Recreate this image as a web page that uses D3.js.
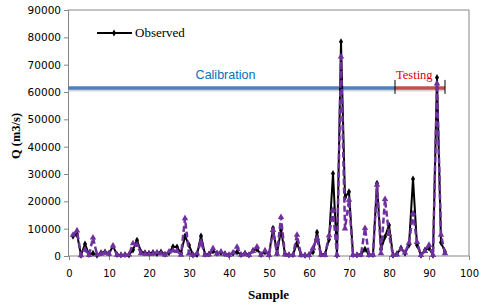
<!DOCTYPE html>
<html>
<head>
<meta charset="utf-8">
<script src="https://cdn.jsdelivr.net/npm/d3@7"></script>
<style>
  body { margin: 0; background: #fff; }
  svg { display: block; }
</style>
</head>
<body>
<svg id="chart" width="500" height="306"></svg>
<script>
// observed / predicted discharge per sample (m3/s)
const observed = [7200, 8000, 300, 4400, 500, 1000, 300, 1200, 1500, 1000,
  3600, 500, 400, 500, 400, 2200, 5800, 1500, 1200, 1000,
  1300, 900, 1500, 600, 1200, 3400, 3300, 1000, 7300, 4000,
  400, 500, 7300, 600, 700, 1800, 1000, 1200, 800, 400,
  1000, 1500, 500, 1000, 400, 2000, 2500, 500, 1500, 500,
  10200, 1000, 9500, 800, 400, 500, 4700, 500, 300, 500,
  1500, 8700, 600, 600, 6000, 30200, 300, 78400, 21400, 23500,
  500, 400, 600, 2500, 500, 500, 26600, 2500, 7000, 11300,
  300, 800, 2900, 1000, 4000, 28200, 4000, 300, 2200, 2900,
  300, 65300, 4900, 1500];
const predicted = [7700, 9300, 200, 2300, 300, 6700, 500, 800, 1200, 800,
  3800, 400, 300, 300, 500, 4600, 4000, 1000, 800, 700,
  800, 1300, 900, 400, 1600, 2000, 1800, 400, 13800, 900,
  300, 1000, 5200, 400, 500, 2800, 800, 1600, 600, 300,
  1200, 3300, 400, 800, 300, 1800, 3400, 400, 2000, 300,
  9500, 800, 14200, 500, 300, 400, 7700, 300, 200, 300,
  2900, 6500, 400, 300, 7500, 16800, 300, 72900, 10000, 20500,
  300, 300, 400, 10200, 300, 400, 26000, 1000, 20800, 8000,
  300, 500, 2500, 1200, 4800, 15600, 5100, 300, 1800, 4000,
  300, 63100, 7700, 1000];
const samples = observed.map((d, i) => i + 1);

const xTicks = [0, 10, 20, 30, 40, 50, 60, 70, 80, 90, 100];
const yTicks = [0, 10000, 20000, 30000, 40000, 50000, 60000, 70000, 80000, 90000];

// calibration / testing periods (sample ranges) and the level they are drawn at
const periods = [
  {name: "Calibration", from: 0, to: 81.5, color: "#4f81bd", text: "#0070c0"},
  {name: "Testing", from: 81.5, to: 94, color: "#c0504d", text: "#e00000"}
];
const periodLevel = 61500;

const svg = d3.select("#chart");
const m = {left: 68, top: 10, right: 469, bottom: 256};

const x = d3.scaleLinear().domain([0, 100]).range([m.left + 1, m.right]);
const y = d3.scaleLinear().domain([0, 90000]).range([m.bottom, m.top]);

const axisCol = "#868686";

// plot frame (top + right)
svg.append("path")
  .attr("d", `M${m.left},${m.top}H${m.right}V${m.bottom}`)
  .attr("fill", "none")
  .attr("stroke", axisCol)
  .attr("stroke-width", 1);

// y axis
const gy = svg.append("g")
  .attr("transform", `translate(${m.left},0)`)
  .call(d3.axisLeft(y).tickValues(yTicks).tickSize(4).tickPadding(3).tickFormat(d3.format("d")));
gy.select(".domain").attr("stroke", axisCol);
gy.selectAll(".tick line").attr("stroke", axisCol);
gy.selectAll(".tick text")
  .attr("fill", "#000")
  .style("font-family", "DejaVu Sans, Verdana, sans-serif")
  .style("font-size", "10.5px");

// x axis
const gx = svg.append("g")
  .attr("transform", `translate(0,${m.bottom})`)
  .call(d3.axisBottom(x).tickValues(xTicks).tickSize(4).tickPadding(10));
gx.select(".domain").attr("stroke", axisCol).attr("d", `M${m.left},0H${m.right}`);
gx.selectAll(".tick line").attr("stroke", axisCol);
gx.selectAll(".tick text")
  .attr("fill", "#000")
  .style("font-family", "DejaVu Sans, Verdana, sans-serif")
  .style("font-size", "10px");

// axis titles
svg.append("text")
  .attr("x", (m.left + m.right) / 2)
  .attr("y", 299)
  .attr("text-anchor", "middle")
  .style("font-family", "Liberation Serif, serif")
  .style("font-weight", "bold")
  .style("font-size", "13px")
  .text("Sample");

svg.append("text")
  .attr("transform", "translate(20,136) rotate(-90)")
  .attr("text-anchor", "middle")
  .style("font-family", "Liberation Serif, serif")
  .style("font-weight", "bold")
  .style("font-size", "12.5px")
  .text("Q (m3/s)");

// period bars
const pg = svg.append("g");
periods.forEach((p, i) => {
  pg.append("line")
    .attr("x1", i == 0 ? m.left : x(p.from)).attr("x2", x(p.to))
    .attr("y1", y(periodLevel) + 2).attr("y2", y(periodLevel) + 2)
    .attr("stroke", "#bbb").attr("stroke-width", 3).attr("opacity", 0.6);
  pg.append("line")
    .attr("x1", i == 0 ? m.left : x(p.from)).attr("x2", x(p.to))
    .attr("y1", y(periodLevel)).attr("y2", y(periodLevel))
    .attr("stroke", p.color).attr("stroke-width", 3.5);
  pg.append("text")
    .attr("x", i == 0 ? (m.left + x(p.to)) / 2 - 6 : x(p.from) + 1)
    .attr("y", y(periodLevel) - 9)
    .attr("text-anchor", i == 0 ? "middle" : "start")
    .attr("fill", p.text)
    .style("font-family", i == 0 ? "Liberation Sans Narrow, Liberation Sans, sans-serif" : "Liberation Serif, serif")
    .style("font-size", "12.5px")
    .text(p.name);
});
[periods[1].from, periods[1].to].forEach(v => {
  pg.append("line")
    .attr("x1", x(v)).attr("x2", x(v))
    .attr("y1", y(periodLevel) - 8).attr("y2", y(periodLevel) + 6)
    .attr("stroke", "#000").attr("stroke-width", 1);
});

// series
const line = (vals) => d3.line()
  .x((d, i) => x(samples[i]))
  .y(d => y(d))(vals);

svg.append("path")
  .attr("d", line(observed))
  .attr("fill", "none")
  .attr("stroke", "#000")
  .attr("stroke-width", 2)
  .attr("stroke-linejoin", "round");

svg.append("g").selectAll("path")
  .data(observed)
  .join("path")
  .attr("transform", (d, i) => `translate(${x(samples[i])},${y(d)})`)
  .attr("d", d3.symbol(d3.symbolDiamond, 14))
  .attr("fill", "#000");

svg.append("path")
  .attr("d", line(predicted))
  .attr("fill", "none")
  .attr("stroke", "#7030a0")
  .attr("stroke-width", 2.5)
  .attr("stroke-dasharray", "6,3")
  .attr("stroke-linejoin", "round");

svg.append("g").selectAll("path")
  .data(predicted)
  .join("path")
  .attr("transform", (d, i) => `translate(${x(samples[i])},${y(d)})`)
  .attr("d", d3.symbol(d3.symbolTriangle, 18))
  .attr("fill", "#7030a0");

// legend
const lg = svg.append("g").attr("transform", "translate(97,33)");
lg.append("line").attr("x1", 0).attr("x2", 35).attr("stroke", "#000").attr("stroke-width", 2);
lg.append("path").attr("transform", "translate(17,0)").attr("d", d3.symbol(d3.symbolDiamond, 14)).attr("fill", "#000");
lg.append("text")
  .attr("x", 38).attr("y", 4)
  .style("font-family", "Liberation Serif, serif")
  .style("font-size", "13px")
  .text("Observed");
</script>
</body>
</html>
